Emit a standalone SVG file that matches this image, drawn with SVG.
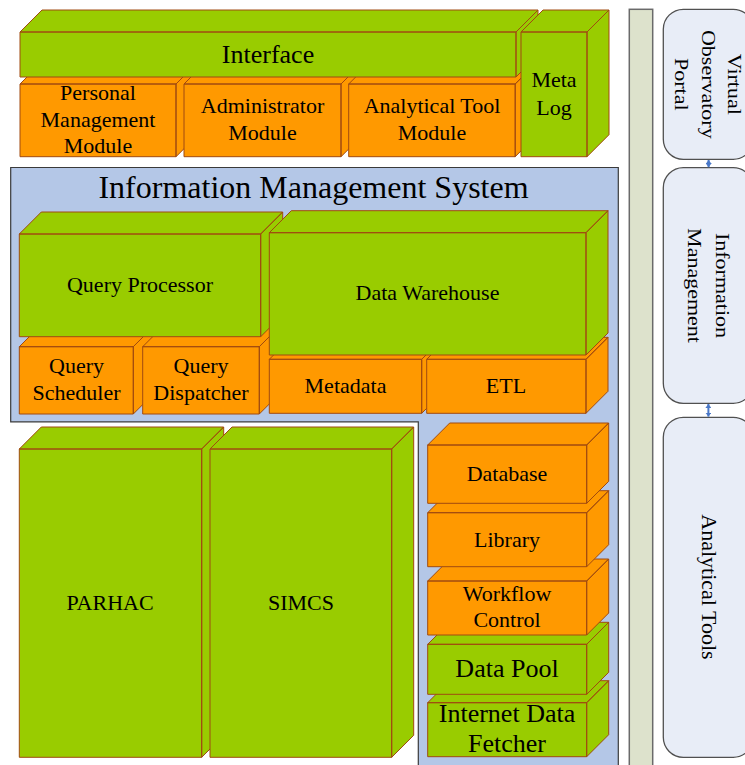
<svg xmlns="http://www.w3.org/2000/svg" width="745" height="765" viewBox="0 0 745 765" font-family="'Liberation Serif', 'Times New Roman', serif">
<style>
svg text{font-family:"Liberation Serif","Times New Roman",serif;fill:#000;text-anchor:middle}
.g{fill:#99cc00;stroke:#a04a10;stroke-width:1}
.o{fill:#ff9900;stroke:#a04a10;stroke-width:1}
.t22{font-size:22px}
.t26{font-size:26px}
.rb{fill:#e8edf7;stroke:#505050;stroke-width:1.3}
.conn{stroke:#4a78c8;stroke-width:2;fill:none}
</style>
<defs>
<marker id="ah" viewBox="0 0 4 6" refX="4" refY="3" markerWidth="4" markerHeight="6" markerUnits="userSpaceOnUse" orient="auto-start-reverse">
<path d="M0,0 L4,3 L0,6 z" fill="#4a78c8"/>
</marker>
</defs>
<rect width="745" height="765" fill="#fff"/>

<g id="personal-management-module">
<path class="o" d="M20,84 h156 v72.7 h-156 z M20,84 l22,-22 h156 l-22,22 z M176,84 l22,-22 v72.7 l-22,22 z"/>
<text class="t22" x="98" y="100">Personal</text>
<text class="t22" x="98" y="127">Management</text>
<text class="t22" x="98" y="153">Module</text>
</g>
<g id="administrator-module">
<path class="o" d="M184,84 h157 v72.7 h-157 z M184,84 l22,-22 h157 l-22,22 z M341,84 l22,-22 v72.7 l-22,22 z"/>
<text class="t22" x="262.5" y="113">Administrator</text>
<text class="t22" x="262.5" y="140">Module</text>
</g>
<g id="analytical-tool-module">
<path class="o" d="M348.7,84 h166.5 v72.7 h-166.5 z M348.7,84 l22,-22 h166.5 l-22,22 z M515.2,84 l22,-22 v72.7 l-22,22 z"/>
<text class="t22" x="432" y="113">Analytical Tool</text>
<text class="t22" x="432" y="140">Module</text>
</g>
<g id="interface">
<path class="g" d="M20,32 h496 v45 h-496 z M20,32 l22,-22 h496 l-22,22 z M516,32 l22,-22 v45 l-22,22 z"/>
<text class="t26" x="268" y="63">Interface</text>
</g>
<g id="meta-log">
<path class="g" d="M521,32 h66 v124.7 h-66 z M521,32 l22,-22 h66 l-22,22 z M587,32 l22,-22 v124.7 l-22,22 z"/>
<text class="t22" x="554" y="87.3">Meta</text>
<text class="t22" x="554" y="115">Log</text>
</g>

<g id="information-management-system">
<path d="M10.7,167.5 H618.3 V770 H418.3 V421.8 H10.7 Z" fill="#b4c7e7" stroke="#3a3a3a" stroke-width="1.2"/>
<text x="313.5" y="197.7" font-size="32">Information Management System</text>
</g>

<g id="query-scheduler">
<path class="o" d="M19.3,346.7 h114 v67.3 h-114 z M19.3,346.7 l22,-22 h114 l-22,22 z M133.3,346.7 l22,-22 v67.3 l-22,22 z"/>
<text class="t22" x="76.5" y="373.3">Query</text>
<text class="t22" x="76.5" y="400">Scheduler</text>
</g>
<g id="query-dispatcher">
<path class="o" d="M142.7,346.7 h116.6 v67.3 h-116.6 z M142.7,346.7 l22,-22 h116.6 l-22,22 z M259.3,346.7 l22,-22 v67.3 l-22,22 z"/>
<text class="t22" x="201" y="373.3">Query</text>
<text class="t22" x="201" y="400">Dispatcher</text>
</g>
<g id="metadata">
<path class="o" d="M269.3,359.3 h152.4 v54 h-152.4 z M269.3,359.3 l22,-22 h152.4 l-22,22 z M421.7,359.3 l22,-22 v54 l-22,22 z"/>
<text class="t22" x="345.5" y="393.3">Metadata</text>
</g>
<g id="etl">
<path class="o" d="M426.7,359.3 h159.3 v54 h-159.3 z M426.7,359.3 l22,-22 h159.3 l-22,22 z M586,359.3 l22,-22 v54 l-22,22 z"/>
<text class="t22" x="506" y="393.3">ETL</text>
</g>
<g id="query-processor">
<path class="g" d="M19.3,234 h241.4 v102.7 h-241.4 z M19.3,234 l22,-22 h241.4 l-22,22 z M260.7,234 l22,-22 v102.7 l-22,22 z"/>
<text class="t22" x="140" y="291.7">Query Processor</text>
</g>
<g id="data-warehouse">
<path class="g" d="M269.3,232.7 h316.7 v122.3 h-316.7 z M269.3,232.7 l22,-22 h316.7 l-22,22 z M586,232.7 l22,-22 v122.3 l-22,22 z"/>
<text class="t22" x="427.5" y="300">Data Warehouse</text>
</g>

<g id="parhac">
<path class="g" d="M19.3,449 h182.4 v308.3 h-182.4 z M19.3,449 l22,-22 h182.4 l-22,22 z M201.7,449 l22,-22 v308.3 l-22,22 z"/>
<text class="t22" x="110" y="610">PARHAC</text>
</g>
<g id="simcs">
<path class="g" d="M210,449 h181.7 v308.3 h-181.7 z M210,449 l22,-22 h181.7 l-22,22 z M391.7,449 l22,-22 v308.3 l-22,22 z"/>
<text class="t22" x="301" y="610">SIMCS</text>
</g>

<g id="internet-data-fetcher">
<path class="g" d="M427.7,702.7 h159 v54 h-159 z M427.7,702.7 l22,-22 h159 l-22,22 z M586.7,702.7 l22,-22 v54 l-22,22 z"/>
<text class="t26" x="507" y="721.7">Internet Data</text>
<text class="t26" x="507" y="751.7">Fetcher</text>
</g>
<g id="data-pool">
<path class="g" d="M427.7,644.3 h159 v50 h-159 z M427.7,644.3 l22,-22 h159 l-22,22 z M586.7,644.3 l22,-22 v50 l-22,22 z"/>
<text class="t26" x="507" y="676.7">Data Pool</text>
</g>
<g id="workflow-control">
<path class="o" d="M427.7,581 h159 v54 h-159 z M427.7,581 l22,-22 h159 l-22,22 z M586.7,581 l22,-22 v54 l-22,22 z"/>
<text class="t22" x="507" y="600.7">Workflow</text>
<text class="t22" x="507" y="627.3">Control</text>
</g>
<g id="library">
<path class="o" d="M427.7,512.7 h159 v54 h-159 z M427.7,512.7 l22,-22 h159 l-22,22 z M586.7,512.7 l22,-22 v54 l-22,22 z"/>
<text class="t22" x="507" y="546.7">Library</text>
</g>
<g id="database">
<path class="o" d="M427.7,445 h159 v58.3 h-159 z M427.7,445 l22,-22 h159 l-22,22 z M586.7,445 l22,-22 v58.3 l-22,22 z"/>
<text class="t22" x="507" y="480.7">Database</text>
</g>

<g id="divider-bar">
<rect x="629.3" y="9.3" width="23.4" height="770" fill="#dde2cc" stroke="#6a6a6a" stroke-width="1.5"/>
</g>
<g id="virtual-observatory-portal">
<rect class="rb" x="663.3" y="9.3" width="90" height="150" rx="20" ry="20"/>
<text class="t22" transform="translate(728.3,84.3) rotate(90) scale(1,0.82)">Virtual</text>
<text class="t22" transform="translate(701.8,84.3) rotate(90) scale(1,0.82)">Observatory</text>
<text class="t22" transform="translate(675.3,84.3) rotate(90) scale(1,0.82)">Portal</text>
</g>
<g id="information-management">
<rect class="rb" x="663.3" y="167.7" width="90" height="235.6" rx="20" ry="20"/>
<text class="t22" transform="translate(715.7,285.5) rotate(90) scale(1,0.82)">Information</text>
<text class="t22" transform="translate(688.3,285.5) rotate(90) scale(1,0.82)">Management</text>
</g>
<g id="analytical-tools">
<rect class="rb" x="663.3" y="417.3" width="90" height="340" rx="20" ry="20"/>
<text class="t22" transform="translate(701.7,587) rotate(90)">Analytical Tools</text>
</g>

<g id="connectors">
<line class="conn" x1="708.6" y1="160" x2="708.6" y2="167.2" marker-start="url(#ah)" marker-end="url(#ah)"/>
<line class="conn" x1="708.4" y1="404" x2="708.4" y2="416.6" marker-start="url(#ah)" marker-end="url(#ah)"/>
</g>
</svg>
